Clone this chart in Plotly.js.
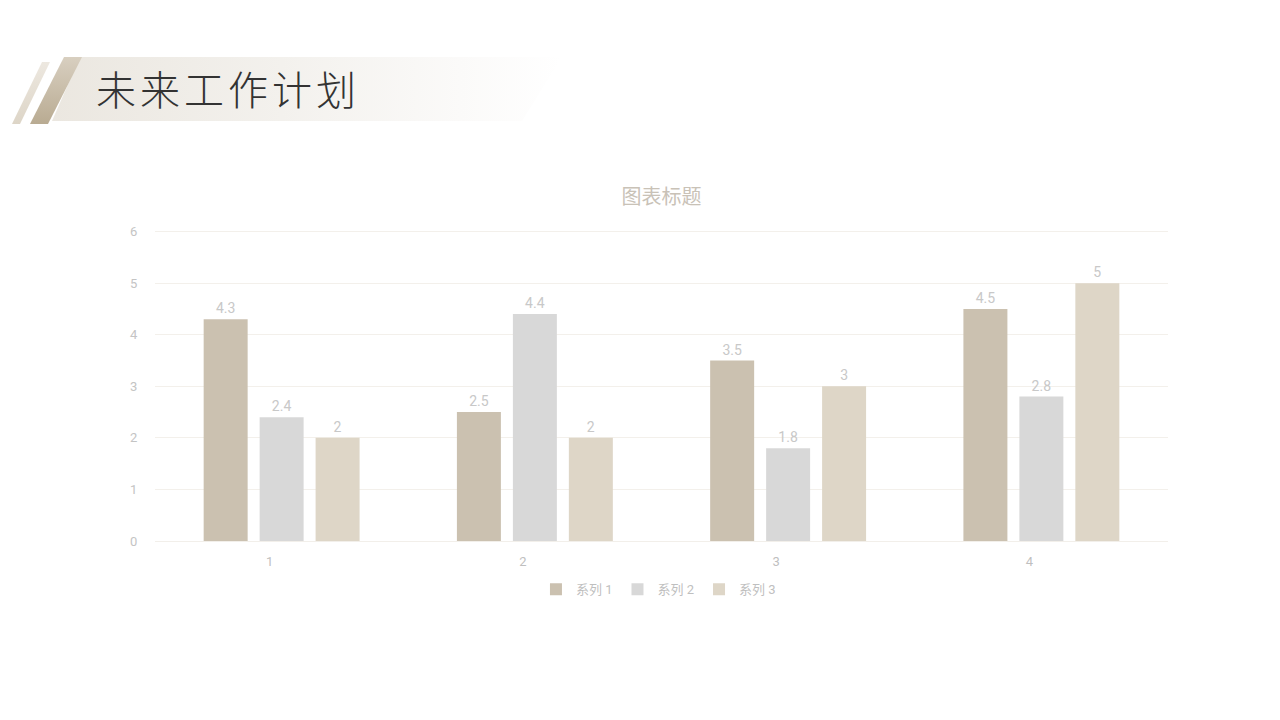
<!DOCTYPE html>
<html>
<head>
<meta charset="utf-8">
<script src="https://cdn.plot.ly/plotly-3.0.1.min.js"></script>
<style>
  html, body { margin: 0; padding: 0; background: #ffffff; }
  #page { position: relative; width: 1280px; height: 720px; overflow: hidden; }
  #banner { position: absolute; left: 52px; top: 57px; width: 510px; height: 64px;
            clip-path: polygon(28px 0, 510px 0, 470px 64px, 0 64px);
            background: linear-gradient(to right, #ebe7e0 0%, #f3f1ed 45%, #fbfaf9 80%, #ffffff 100%); }
  #stripe1 { position: absolute; left: 30px; top: 57px; width: 52px; height: 67px;
             clip-path: polygon(34px 0, 52px 0, 18px 67px, 0 67px);
             background: linear-gradient(to bottom, #d8cfc0, #b9ab92); }
  #stripe2 { position: absolute; left: 12px; top: 62px; width: 38px; height: 62px;
             clip-path: polygon(30px 0, 38px 0, 8px 62px, 0 62px);
             background: linear-gradient(to bottom, #ede8e0, #ddd5c7); }
  #heading { position: absolute; left: 96px; top: 61px; font-family: "Noto Sans CJK SC", sans-serif;
             font-size: 40px; font-weight: 300; letter-spacing: 4px; color: #333333; line-height: 54px; }
  #chart { position: absolute; left: 0; top: 0; width: 1280px; height: 720px; }
</style>
</head>
<body>
<div id="page">
  <div id="banner"></div>
  <div id="stripe2"></div>
  <div id="stripe1"></div>
  <div id="heading">未来工作计划</div>
  <div id="chart"></div>
</div>
<script>
// Categories
var categories = [1, 2, 3, 4];

// Series values
var series1 = [4.3, 2.5, 3.5, 4.5];
var series2 = [2.4, 4.4, 1.8, 2.8];
var series3 = [2, 2, 3, 5];

// Series names
var seriesNames = ['系列 1', '系列 2', '系列 3'];

// Series colours
var seriesColors = ['#cbc1b0', '#d8d8d8', '#ded6c7'];

// Builds one bar trace
function makeTrace(values, idx) {
    return {
        x: categories,
        y: values,
        type: 'bar',
        name: seriesNames[idx],
        marker: {color: seriesColors[idx]},
        text: values.map(v => String(v)),
        textposition: 'outside',
        cliponaxis: false,
        textfont: {family: 'Roboto, sans-serif', size: 14, color: '#c8c8c8'},
        hoverinfo: 'skip'
    };
}

var data = [makeTrace(series1, 0), makeTrace(series2, 1), makeTrace(series3, 2)];

var layout = {
    width: 1280,
    height: 720,
    margin: {l: 155, r: 112, t: 229, b: 179},
    paper_bgcolor: 'rgba(0,0,0,0)',
    plot_bgcolor: 'rgba(0,0,0,0)',
    barmode: 'group',
    bargap: 0.337,
    bargroupgap: 0.214,
    font: {family: 'Roboto, "Noto Sans CJK SC", sans-serif', color: '#bfbfbf'},
    title: {
        text: '图表标题',
        x: 0.5, xref: 'paper', xanchor: 'center',
        y: 1 - 197 / 720, yanchor: 'middle',
        font: {family: '"Noto Sans CJK SC", sans-serif', size: 20, color: '#c9c2b7'}
    },
    xaxis: {
        range: [0.5, 4.5],
        tickvals: categories,
        ticktext: categories.map(String),
        ticks: 'outside', ticklen: 8, tickcolor: 'rgba(0,0,0,0)',
        ticklabelshift: -12,
        showgrid: false, zeroline: false,
        showline: true, linecolor: '#f2efea', linewidth: 1,
        tickfont: {size: 13, color: '#bfbfbf'}
    },
    yaxis: {
        range: [0, 6.05],
        tickvals: [0, 1, 2, 3, 4, 5, 6],
        ticks: 'outside', ticklen: 14, tickcolor: 'rgba(0,0,0,0)',
        showgrid: true, gridcolor: '#f3f0eb', gridwidth: 1,
        zeroline: false, showline: false,
        tickfont: {size: 13, color: '#c4c4c4'}
    },
    showlegend: true,
    legend: {
        orientation: 'h',
        x: 0.497, xanchor: 'center',
        y: -0.155, yanchor: 'middle',
        font: {size: 13, color: '#bfbfbf'},
        itemwidth: 30,
        traceorder: 'normal'
    }
};

Plotly.newPlot('chart', data, layout, {displayModeBar: false, staticPlot: true});
</script>
</body>
</html>
